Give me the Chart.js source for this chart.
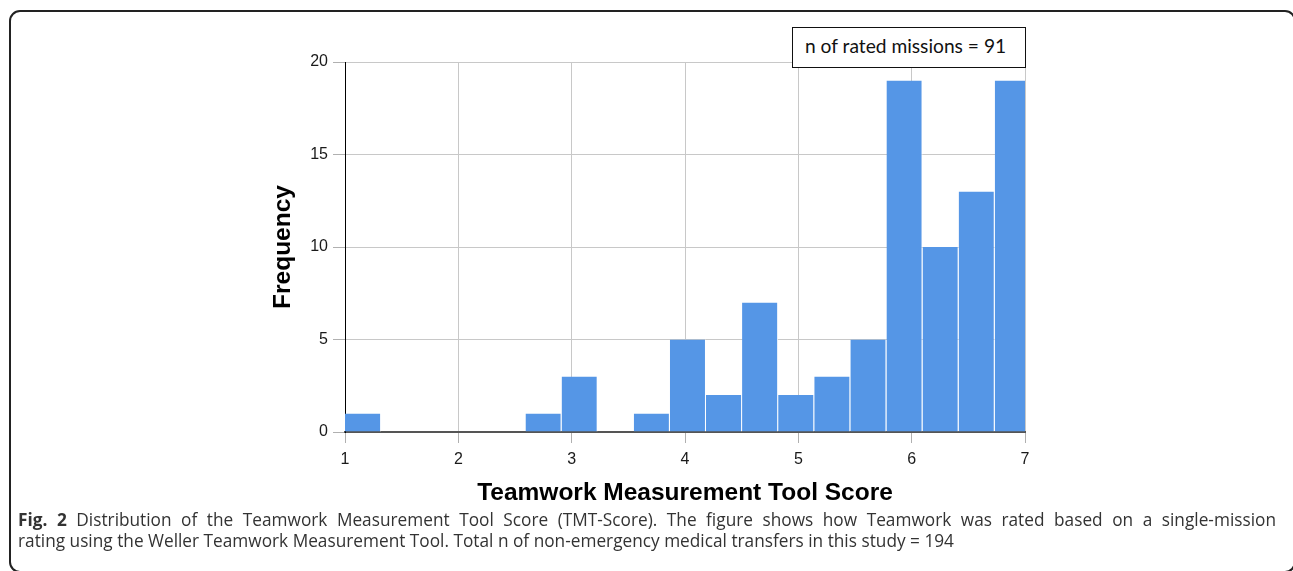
<!DOCTYPE html>
<html>
<head>
<meta charset="utf-8">
<script src="https://cdn.jsdelivr.net/npm/chart.js@4.4.1/dist/chart.umd.min.js"></script>
<style>
  html, body { margin: 0; padding: 0; background: #fff; overflow: hidden; }
  body { width: 1293px; height: 571px; position: relative; }
  #frame { position: absolute; left: 9px; top: 10px; width: 1287px; height: 563px;
           border: 2px solid #222; border-radius: 11px; box-sizing: border-box; }
  #wrap { position: absolute; left: 0; top: 0; width: 1293px; height: 571px; }
  #note { position: absolute; left: 792px; top: 27px; width: 234px; height: 41px; box-sizing: border-box;
          border: 1.5px solid #111; background: #fff; }
  #noteText { position: absolute; left: 805px; top: 31px; font-family: Lato, sans-serif; font-size: 19.2px;
              line-height: 30px; color: #111; white-space: nowrap; }
  .cap { position: absolute; left: 18px; font-family: "Open Sans", sans-serif; font-size: 18px;
         line-height: 21px; color: #333; white-space: nowrap; transform-origin: 0 0; }
  #cap1 { top: 509px; }
  #cap2 { top: 530px; }
</style>
</head>
<body>
<div id="wrap"><canvas id="c" width="1293" height="571"></canvas></div>
<div id="frame"></div>
<div id="note"></div>
<div id="noteText">n of rated missions = 91</div>
<div id="cap1" class="cap"><b>Fig. 2</b> Distribution of the Teamwork Measurement Tool Score (TMT-Score). The figure shows how Teamwork was rated based on a single-mission</div>
<div id="cap2" class="cap">rating using the Weller Teamwork Measurement Tool. Total n of non-emergency medical transfers in this study = 194</div>
<script>
// ---- data ----
const binStart = 1.0;
const binWidth = 0.3185;
const counts = [1, 0, 0, 0, 0, 1, 3, 0, 1, 5, 2, 7, 2, 3, 5, 19, 10, 13, 19];
const xTicks = [1, 2, 3, 4, 5, 6, 7];
const yTicks = [0, 5, 10, 15, 20];
const xTitle = 'Teamwork Measurement Tool Score';
const yTitle = 'Frequency';

const points = counts.map((c, i) => ({ x: binStart + (i + 0.5) * binWidth, y: c }));

// caption fitting (horizontal condensing to match the reference typeface width)
(function () {
  const c1 = document.getElementById('cap1');
  const c2 = document.getElementById('cap2');
  const w2 = c2.getBoundingClientRect().width;
  const s = 936 / w2;
  c2.style.transform = 'scaleX(' + s + ')';
  c1.style.width = (1258 / s) + 'px';
  c1.style.whiteSpace = 'normal';
  c1.style.textAlign = 'justify';
  c1.style.textAlignLast = 'justify';
  c1.style.transform = 'scaleX(' + s + ')';
})();

const FONT = "'Liberation Sans', Arial, sans-serif";
new Chart(document.getElementById('c'), {
  type: 'bar',
  data: {
    datasets: [{
      data: points,
      backgroundColor: '#5596e6',
      borderColor: '#ffffff',
      borderWidth: { left: 0, right: 1, top: 0, bottom: 0 },
      borderSkipped: false,
      barPercentage: 1,
      categoryPercentage: 1,
      inflateAmount: 0
    }]
  },
  options: {
    responsive: false,
    animation: false,
    devicePixelRatio: 1,
    layout: { padding: { left: 0, right: 268, top: 62, bottom: 0 } },
    plugins: { legend: { display: false }, tooltip: { enabled: false } },
    scales: {
      x: {
        type: 'linear',
        min: 1, max: 7,
        offset: false,
        afterBuildTicks: (s) => { s.ticks = xTicks.map(v => ({ value: v })); },
        afterFit: (s) => { s.height = 139; },
        ticks: { font: { family: FONT, size: 16 }, color: '#1a1a1a', padding: 7, maxRotation: 0 },
        grid: { offset: false, color: '#c8c8c8', lineWidth: 1, tickLength: 11, tickColor: '#b0b0b0' },
        border: { color: '#555555', width: 2 },
        title: { display: true, text: xTitle, font: { family: FONT, size: 24.5, weight: 'bold' },
                 color: '#000', padding: { top: 0, bottom: 63 } }
      },
      y: {
        min: 0, max: 20,
        afterBuildTicks: (s) => { s.ticks = yTicks.map(v => ({ value: v })); },
        afterFit: (s) => { s.width = 345; },
        ticks: { font: { family: FONT, size: 16 }, color: '#1a1a1a', padding: 5 },
        grid: { color: '#c8c8c8', lineWidth: 1, tickLength: 12, tickColor: '#b0b0b0' },
        border: { color: '#000000', width: 1 },
        title: { display: true, text: yTitle, font: { family: FONT, size: 24.5, weight: 'bold' },
                 color: '#000', padding: { top: 269, bottom: 0 } }
      }
    }
  }
});
</script>
</body>
</html>
